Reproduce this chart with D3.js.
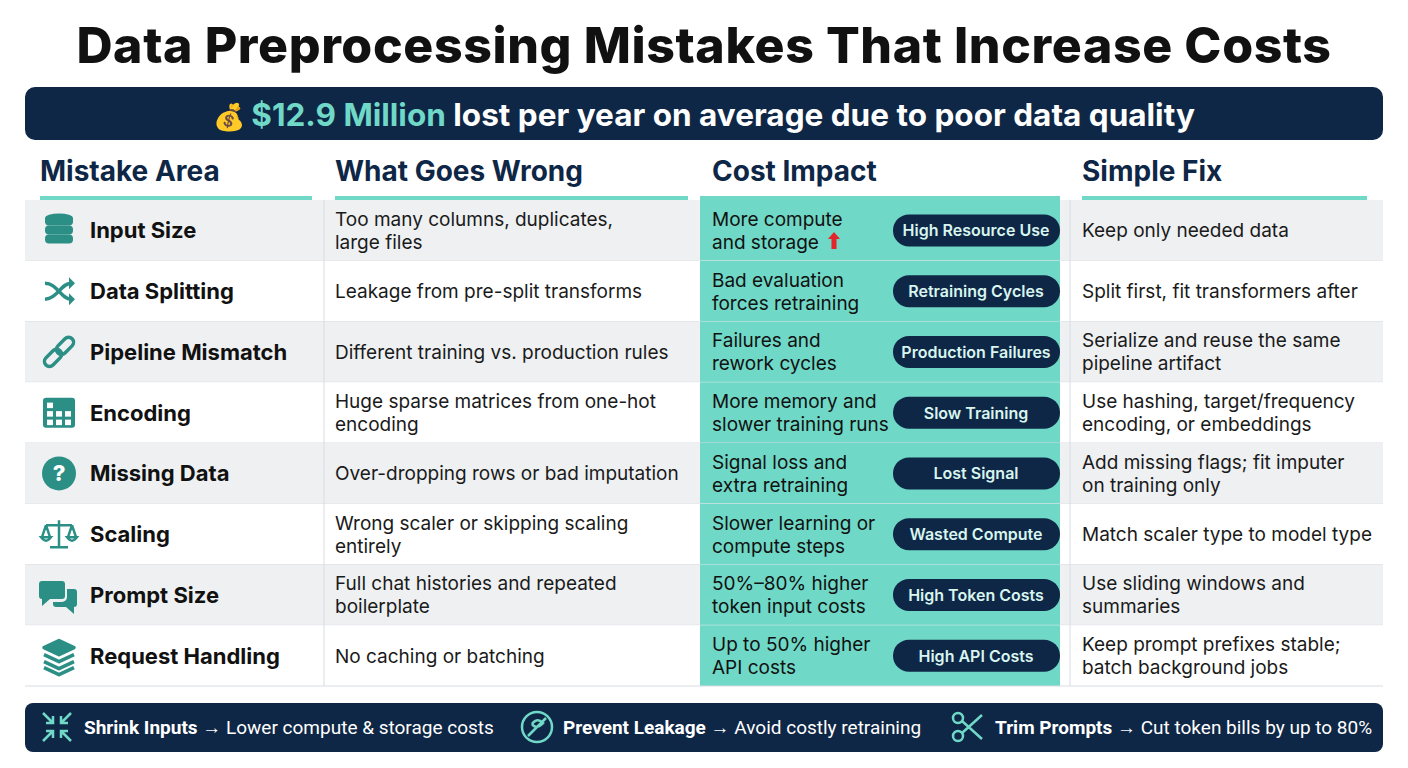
<!DOCTYPE html>
<html><head><meta charset="utf-8">
<script src="https://cdn.jsdelivr.net/npm/d3@7"></script>
<style>body{margin:0;background:#fff}svg{display:block}</style>
</head><body>
<svg id="chart" width="1408" height="768"></svg>
<script>
const headers = ['Mistake Area', 'What Goes Wrong', 'Cost Impact', 'Simple Fix']
const areas = ['Input Size', 'Data Splitting', 'Pipeline Mismatch', 'Encoding', 'Missing Data', 'Scaling', 'Prompt Size', 'Request Handling']
const icons = ['db', 'shuffle', 'link', 'grid', 'question', 'scale', 'chat', 'layers']
const wrong = [
  ['Too many columns, duplicates,', 'large files'], ['Leakage from pre-split transforms'],
  ['Different training vs. production rules'], ['Huge sparse matrices from one-hot', 'encoding'],
  ['Over-dropping rows or bad imputation'], ['Wrong scaler or skipping scaling', 'entirely'],
  ['Full chat histories and repeated', 'boilerplate'], ['No caching or batching']]
const impact = [
  ['More compute', 'and storage'], ['Bad evaluation', 'forces retraining'], ['Failures and', 'rework cycles'],
  ['More memory and', 'slower training runs'], ['Signal loss and', 'extra retraining'], ['Slower learning or', 'compute steps'],
  ['50%–80% higher', 'token input costs'], ['Up to 50% higher', 'API costs']]
const tags = ['High Resource Use', 'Retraining Cycles', 'Production Failures', 'Slow Training', 'Lost Signal', 'Wasted Compute', 'High Token Costs', 'High API Costs']
const fixes = [
  ['Keep only needed data'], ['Split first, fit transformers after'], ['Serialize and reuse the same', 'pipeline artifact'],
  ['Use hashing, target/frequency', 'encoding, or embeddings'], ['Add missing flags; fit imputer', 'on training only'],
  ['Match scaler type to model type'], ['Use sliding windows and', 'summaries'], ['Keep prompt prefixes stable;', 'batch background jobs']]
const footer = [['Shrink Inputs', 'Lower compute & storage costs'], ['Prevent Leakage', 'Avoid costly retraining'], ['Trim Prompts', 'Cut token bills by up to 80%']]

const NAVY = '#0f2746', TEAL = '#6fd8c6', ICON = '#2b8f86', FONT = 'Inter, "Noto Sans", sans-serif'
const svg = d3.select('#chart').style('font-family', FONT)

svg.append('text').attr('x', 704).attr('y', 63).attr('text-anchor', 'middle')
  .attr('font-size', 50).attr('font-weight', 800).attr('fill', '#111').attr('letter-spacing', 0.6)
  .text('Data Preprocessing Mistakes That Increase Costs')

svg.append('rect').attr('x', 25).attr('y', 87).attr('width', 1358).attr('height', 53).attr('rx', 10).attr('fill', NAVY)
const ban = svg.append('text').attr('x', 704).attr('y', 126).attr('text-anchor', 'middle').attr('font-size', 31.5).attr('font-weight', 700)
ban.append('tspan').text('💰 ').attr('font-size', 26)
ban.append('tspan').attr('fill', TEAL).text('$12.9 Million')
ban.append('tspan').attr('fill', '#fff').text(' lost per year on average due to poor data quality')

const colX = [40, 335, 712, 1082]
const lineSpan = [[40, 312], [335, 688], [700, 1060], [1082, 1367]]
const y = d3.scaleBand().domain(d3.range(areas.length)).range([200, 686])
const bh = y.bandwidth()

headers.forEach((h, i) => {
  svg.append('text').attr('x', colX[i]).attr('y', 181).attr('font-size', 28).attr('font-weight', 700).attr('fill', NAVY).text(h)
  svg.append('rect').attr('x', lineSpan[i][0]).attr('y', 196).attr('width', lineSpan[i][1] - lineSpan[i][0]).attr('height', 4).attr('fill', TEAL)
})

const rows = svg.append('g').selectAll('g').data(areas).join('g').attr('transform', (d, i) => `translate(0,${y(i)})`)
rows.append('rect').attr('x', 25).attr('width', 1358).attr('height', bh).attr('fill', (d, i) => i % 2 ? '#fff' : '#eef0f2')
rows.append('rect').attr('x', 700).attr('width', 360).attr('height', bh).attr('fill', TEAL)
rows.append('line').attr('x1', 25).attr('x2', 1383).attr('y1', bh).attr('y2', bh).attr('stroke', '#d8dde2')
svg.append('line').attr('x1', 324).attr('x2', 324).attr('y1', 200).attr('y2', 686).attr('stroke', '#d8dde2')
svg.append('line').attr('x1', 1070).attr('x2', 1070).attr('y1', 200).attr('y2', 686).attr('stroke', '#d8dde2')

rows.append('text').attr('x', 90).attr('y', bh / 2 + 8).attr('font-size', 22).attr('font-weight', 700).attr('fill', '#111').text(d => d)

function multi(sel, arr, x, size, fill) {
  sel.each(function (d, i) {
    const lines = arr[i], t = d3.select(this).append('text').attr('font-size', size).attr('fill', fill)
    const y0 = bh / 2 + 7 - (lines.length - 1) * 11.5
    lines.forEach((l, k) => t.append('tspan').attr('x', x).attr('y', y0 + k * 23).text(l))
  })
}
multi(rows, wrong, 335, 19, '#1a1a1a')
multi(rows, impact, 712, 19, '#111')
multi(rows, fixes, 1082, 19, '#1a1a1a')

// red up arrow after "and storage"
svg.append('path').attr('transform', `translate(834,${y(0) + 41})`).attr('d', 'M0,-9 L6,-2 L2.5,-2 L2.5,8 L-2.5,8 L-2.5,-2 L-6,-2 Z').attr('fill', '#e2262b')

rows.append('rect').attr('x', 893).attr('y', bh / 2 - 16).attr('width', 167).attr('height', 32).attr('rx', 16).attr('fill', NAVY)
rows.append('text').attr('x', 976).attr('y', bh / 2 + 6).attr('text-anchor', 'middle').attr('font-size', 16).attr('font-weight', 600).attr('fill', '#d8f5ef').text((d, i) => tags[i])

// icons
const draw = {
  db(g) { [-9, 0, 9].forEach(o => g.append('rect').attr('x', -14).attr('y', o - 5).attr('width', 28).attr('height', 9).attr('rx', 4).attr('fill', ICON))
    g.append('ellipse').attr('rx', 14).attr('ry', 5).attr('cy', -12).attr('fill', ICON) },
  shuffle(g) { g.append('path').attr('d', 'M-14,-8 C-2,-8 2,8 12,8 M-14,8 C-2,8 2,-8 12,-8').attr('fill', 'none').attr('stroke', ICON).attr('stroke-width', 3.5)
    g.append('path').attr('d', 'M10,-14 L16,-8 L10,-2 Z M10,2 L16,8 L10,14 Z').attr('fill', ICON) },
  link(g) { [-6, 6].forEach(o => g.append('rect').attr('x', o - 10).attr('y', o * -1 - 5).attr('width', 20).attr('height', 10).attr('rx', 5)
    .attr('transform', `rotate(-45 ${o} ${-o})`).attr('fill', 'none').attr('stroke', ICON).attr('stroke-width', 3.5)) },
  grid(g) { g.append('rect').attr('x', -16).attr('y', -15).attr('width', 32).attr('height', 30).attr('rx', 3).attr('fill', ICON)
    for (let r = 0; r < 3; r++) for (let c = 0; c < 3; c++) if (!(r === 0 && c > 0)) g.append('rect').attr('x', -12 + c * 9).attr('y', -10 + r * 8.5).attr('width', 6).attr('height', 5.5).attr('fill', '#fff') },
  question(g) { g.append('circle').attr('r', 17).attr('fill', ICON)
    g.append('text').attr('y', 8).attr('text-anchor', 'middle').attr('font-size', 22).attr('font-weight', 800).attr('fill', '#fff').text('?') },
  scale(g) { g.append('path').attr('d', 'M0,-14 L0,13 M-9,13 L9,13 M-13,-9 L13,-9 M-13,-9 L-17,3 M-13,-9 L-9,3 M13,-9 L9,3 M13,-9 L17,3 M-18,3 Q-13,10 -8,3 Z M8,3 Q13,10 18,3 Z')
    .attr('fill', 'none').attr('stroke', ICON).attr('stroke-width', 2.5) },
  chat(g) { g.append('path').attr('d', 'M-17,-14 h20 a3,3 0 0 1 3,3 v12 a3,3 0 0 1 -3,3 h-12 l-8,7 v-7 a3,3 0 0 1 -3,-3 v-12 a3,3 0 0 1 3,-3 Z').attr('fill', ICON)
    g.append('path').attr('d', 'M8,-6 h7 a3,3 0 0 1 3,3 v12 a3,3 0 0 1 -3,3 v7 l-8,-7 h-10 a3,3 0 0 1 -3,-3 v-2 h9 a5,5 0 0 0 5,-5 Z').attr('fill', ICON) },
  layers(g) { [-8, -1, 6, 12].forEach((o, k) => g.append('path').attr('d', k ? `M-15,${o} L0,${o + 7} L15,${o}` : `M-15,${o} L0,${o - 7} L15,${o} L0,${o + 7} Z`)
    .attr('fill', k ? 'none' : ICON).attr('stroke', ICON).attr('stroke-width', 3.5).attr('stroke-linejoin', 'round')) }
}
rows.each(function (d, i) { draw[icons[i]](d3.select(this).append('g').attr('transform', `translate(59,${bh / 2})`)) })

// footer
svg.append('rect').attr('x', 25).attr('y', 703).attr('width', 1358).attr('height', 49).attr('rx', 8).attr('fill', NAVY)
const fx = [84, 563, 995], ix = [57, 537, 967]
footer.forEach((f, i) => {
  const t = svg.append('text').attr('x', fx[i]).attr('y', 734).attr('font-size', 19).attr('fill', '#fff').attr('font-family', 'Roboto, sans-serif')
  t.append('tspan').attr('font-weight', 700).text(f[0])
  t.append('tspan').text(' → ' + f[1])
  const g = svg.append('g').attr('transform', `translate(${ix[i]},727)`).attr('stroke', TEAL).attr('stroke-width', 2.5).attr('fill', 'none')
  if (i === 0) g.append('path').attr('d', 'M-14,-14 L-4,-4 M-4,-11 L-4,-4 L-11,-4 M14,-14 L4,-4 M4,-11 L4,-4 L11,-4 M-14,14 L-4,4 M-4,11 L-4,4 L-11,4 M14,14 L4,4 M4,11 L4,4 L11,4')
  if (i === 1) { g.append('circle').attr('r', 15); g.append('path').attr('d', 'M-9,9 L9,-9 M-5,-3 Q0,-10 6,-4 Q-1,3 -5,-3') }
  if (i === 2) { g.append('circle').attr('cx', -9).attr('cy', -9).attr('r', 5); g.append('circle').attr('cx', -9).attr('cy', 9).attr('r', 5)
    g.append('path').attr('d', 'M-5,-6 L15,12 M-5,6 L15,-12') }
})
</script>
</body></html>
